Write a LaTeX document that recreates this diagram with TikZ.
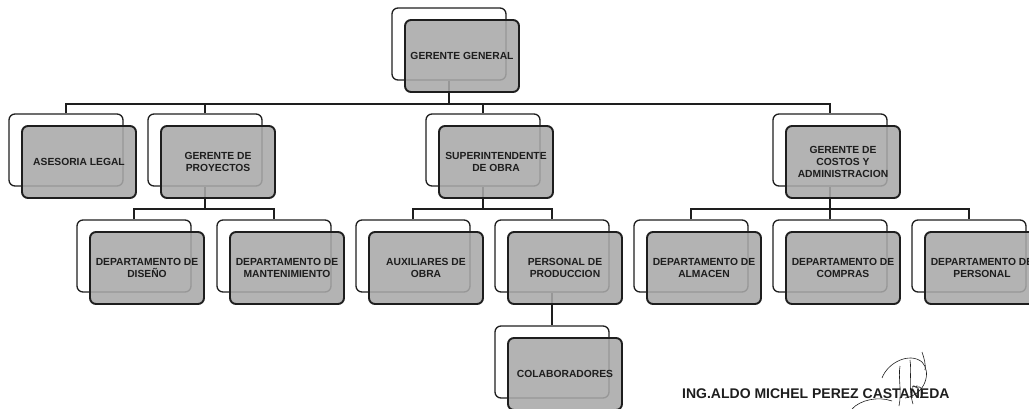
\documentclass[tikz,border=0pt]{standalone}
\usepackage{fontspec}
\setmainfont{Liberation Sans}
\newfontfamily\arialf{Liberation Sans}
\definecolor{boxgray}{RGB}{168,168,168}
\definecolor{ink}{RGB}{30,30,30}
\pgfdeclarelayer{bg}
\pgfsetlayers{bg,main}
\tikzset{
  backbox/.style={draw=ink, line width=1.3pt, rounded corners=6pt, minimum width=114pt, minimum height=72pt, inner sep=0pt},
  frontbox/.style={draw=ink, line width=1.9pt, rounded corners=6pt, fill=boxgray, fill opacity=0.88, text opacity=1, minimum width=114pt, minimum height=72pt, inner sep=0pt, align=center, text=ink, font=\arialf\bfseries\fontsize{10.3}{12.4}\selectfont},
  conn/.style={draw=ink, line width=1.3pt},
  sigline/.style={draw=ink, line width=0.6pt}
}
\newcommand\orgbox[4]{%
  \node[backbox] (#1) at (#2,#3) {};
  \node[frontbox] (#1f) at (#2+13,#3+12) {#4};}
\begin{document}
\begin{tikzpicture}[x=1pt,y=-1pt]
\useasboundingbox (0,0) rectangle (1029,409);
\coordinate (bus1) at (0,104);
\coordinate (bus2) at (0,209);
% row 1
\orgbox{gg}{449}{44}{GERENTE GENERAL}
% row 2
\orgbox{al}{66}{150}{ASESORIA LEGAL}
\orgbox{gp}{205}{150}{GERENTE DE\\PROYECTOS}
\orgbox{so}{483}{150}{SUPERINTENDENTE\\DE OBRA}
\orgbox{gc}{830}{150}{GERENTE DE\\COSTOS Y\\ADMINISTRACION}
% row 3
\orgbox{dd}{134}{256}{DEPARTAMENTO DE\\DISEÑO}
\orgbox{dm}{274}{256}{DEPARTAMENTO DE\\MANTENIMIENTO}
\orgbox{ao}{413}{256}{AUXILIARES DE\\OBRA}
\orgbox{pp}{552}{256}{PERSONAL DE\\PRODUCCION}
\orgbox{da}{691}{256}{DEPARTAMENTO DE\\ALMACEN}
\orgbox{dc}{830}{256}{DEPARTAMENTO DE\\COMPRAS}
\orgbox{dp}{969}{256}{DEPARTAMENTO DE\\PERSONAL}
% row 4
\orgbox{co}{552}{362}{COLABORADORES}
\begin{pgfonlayer}{bg}
  % level 1
  \draw[conn] (gg.south) -- (gg.south |- bus1);
  \draw[conn] (al.north) -- (al.north |- bus1) -- (gc.north |- bus1) -- (gc.north);
  \draw[conn] (gp.north) -- (gp.north |- bus1);
  \draw[conn] (so.north) -- (so.north |- bus1);
  % gerente de proyectos
  \draw[conn] (gp.south) -- (gp.south |- bus2);
  \draw[conn] (dd.north) -- (dd.north |- bus2) -- (dm.north |- bus2) -- (dm.north);
  % superintendente
  \draw[conn] (so.south) -- (so.south |- bus2);
  \draw[conn] (ao.north) -- (ao.north |- bus2) -- (pp.north |- bus2) -- (pp.north);
  % costos
  \draw[conn] (gc.south) -- (gc.south |- bus2);
  \draw[conn] (da.north) -- (da.north |- bus2) -- (dp.north |- bus2) -- (dp.north);
  \draw[conn] (dc.north) -- (dc.north |- bus2);
  % personal de produccion
  \draw[conn] (pp.south) -- (co.north);
\end{pgfonlayer}
% signature text
\node[anchor=base west, inner sep=0pt, text=ink, font=\arialf\bfseries\fontsize{14}{16}\selectfont] (sig) at (682,398) {ING.ALDO MICHEL PEREZ CASTAÑEDA};
% handwritten signature
\draw[sigline] (882,378) .. controls (888,362) and (910,352) .. (922,362) .. controls (932,372) and (925,395) .. (905,398);
\draw[sigline] (900,366) .. controls (898,378) and (902,392) .. (899,406);
\draw[sigline] (910,360) .. controls (912,372) and (908,388) .. (913,404);
\draw[sigline] (922,352) .. controls (924,358) and (926,364) .. (925,370);
\draw[sigline] (852,409) .. controls (860,400) and (878,396) .. (892,401);
\draw[sigline] (916,388) .. controls (921,384) and (926,392) .. (920,398);
\end{tikzpicture}
\end{document}
